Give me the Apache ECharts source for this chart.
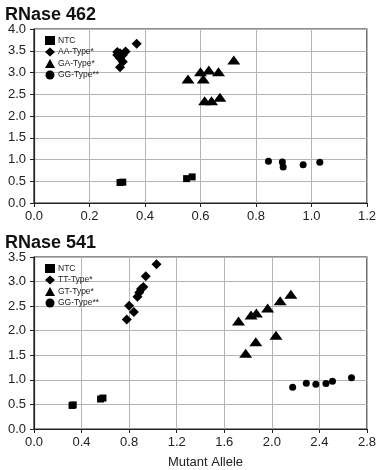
<!DOCTYPE html>
<html><head><meta charset="utf-8">
<script src="https://cdn.jsdelivr.net/npm/echarts@6/dist/echarts.min.js"></script>
<style>html,body{margin:0;padding:0;background:#fff}#c{width:379px;height:470px}</style>
</head><body><div id="c"></div>
<script>
// Chart 1: RNase 462
const ntc462 = [[0.31,0.47],[0.32,0.48],[0.55,0.56],[0.57,0.60]];
const aa462 = [[0.30,3.47],[0.31,3.44],[0.33,3.48],[0.32,3.40],[0.30,3.40],[0.31,3.33],[0.32,3.25],[0.31,3.12],[0.37,3.66]];
const ga462 = [[0.555,2.85],[0.60,3.02],[0.63,3.06],[0.665,3.02],[0.61,2.85],[0.72,3.29],[0.615,2.35],[0.64,2.35],[0.67,2.43]];
const gg462 = [[0.845,0.96],[0.895,0.94],[0.898,0.83],[0.97,0.88],[1.03,0.935]];
// Chart 2: RNase 541
const ntc541 = [[0.32,0.48],[0.33,0.49],[0.56,0.61],[0.58,0.63]];
const tt541 = [[1.03,3.35],[0.94,3.11],[0.92,2.89],[0.90,2.85],[0.885,2.78],[0.87,2.69],[0.80,2.51],[0.84,2.38],[0.78,2.23]];
const gt541 = [[2.16,2.74],[2.07,2.61],[1.965,2.46],[1.87,2.36],[1.825,2.32],[1.72,2.20],[2.035,1.91],[1.865,1.775],[1.78,1.54]];
const gg541 = [[2.175,0.85],[2.29,0.93],[2.37,0.91],[2.455,0.925],[2.51,0.97],[2.67,1.045]];

const titles = ['RNase 462','RNase 541'];
const legend1 = ['NTC','AA-Type*','GA-Type*','GG-Type**'];
const legend2 = ['NTC','TT-Type*','GT-Type*','GG-Type**'];
const xAxisName = 'Mutant Allele';

const font = 'Arial, "Liberation Sans", sans-serif';
const chart = echarts.init(document.getElementById('c'), null, {renderer:'canvas'});
function xAx(gi, max, interval){
  return {gridIndex:gi, type:'value', min:0, max:max, interval:interval,
    axisLine:{show:true, lineStyle:{color:'#222', width:1.2}},
    axisTick:{show:true, length:4, lineStyle:{color:'#222'}},
    axisLabel:{color:'#222', fontSize:13, fontFamily:font, margin:7, formatter:v=>v.toFixed(1)},
    splitLine:{show:true, lineStyle:{color:'#b5b5b5', width:1}}};
}
function yAx(gi, max){
  return {gridIndex:gi, type:'value', min:0, max:max, interval:0.5,
    axisLine:{show:true, lineStyle:{color:'#222', width:1.2}},
    axisTick:{show:true, length:4, lineStyle:{color:'#222'}},
    axisLabel:{color:'#222', fontSize:13, fontFamily:font, margin:8, formatter:v=>v.toFixed(1)},
    splitLine:{show:true, lineStyle:{color:'#b5b5b5', width:1}}};
}
function ser(name, data, gi, symbol, size){
  return {name:name, type:'scatter', xAxisIndex:gi, yAxisIndex:gi, data:data,
    symbol:symbol, symbolSize:size, itemStyle:{color:'#000', opacity:1}, silent:true, animation:false};
}
function leg(data, top){
  return {orient:'vertical', left:40, top:top, itemGap:2.5, itemWidth:10, itemHeight:9,
    textStyle:{fontSize:8.5, color:'#222', fontFamily:font, padding:[0,0,0,-2]},
    data:[
      {name:data[0], icon:'rect', itemStyle:{color:'#000', opacity:1}},
      {name:data[1], icon:'diamond', itemStyle:{color:'#000', opacity:1}},
      {name:data[2], icon:'triangle', itemStyle:{color:'#000', opacity:1}},
      {name:data[3], icon:'circle', itemStyle:{color:'#000', opacity:1}}
    ], selectedMode:false};
}
chart.setOption({
  backgroundColor:'#fff',
  animation:false,
  title:[
    {text:titles[0], left:0, top:1, textStyle:{fontSize:18, fontWeight:'bold', color:'#111', fontFamily:font}},
    {text:titles[1], left:0, top:229, textStyle:{fontSize:18, fontWeight:'bold', color:'#111', fontFamily:font}}
  ],
  grid:[
    {left:34, top:29, width:334, height:174, show:true, borderColor:'#222', borderWidth:1.2, backgroundColor:'transparent'},
    {left:34, top:257, width:334, height:175, show:true, borderColor:'#222', borderWidth:1.2, backgroundColor:'transparent'}
  ],
  xAxis:[xAx(0,1.2,0.2), Object.assign(xAx(1,2.8,0.4), {name:xAxisName, nameLocation:'middle', nameGap:27, nameTextStyle:{fontSize:13, color:'#222', fontFamily:font, padding:[0,0,0,10]}})],
  yAxis:[yAx(0,4.0), yAx(1,3.5)],
  legend:[leg(legend1,31), leg(legend2,259)],
  series:[
    ser('NTC', ntc462, 0, 'rect', 7),
    ser(legend1[1], aa462, 0, 'diamond', 10),
    ser(legend1[2], ga462, 0, 'triangle', [13,9]),
    ser(legend1[3], gg462, 0, 'circle', 7),
    ser('NTC', ntc541, 1, 'rect', 7),
    ser(legend2[1], tt541, 1, 'diamond', 10),
    ser(legend2[2], gt541, 1, 'triangle', [13,9]),
    ser(legend2[3], gg541, 1, 'circle', 7)
  ]
});
</script></body></html>
